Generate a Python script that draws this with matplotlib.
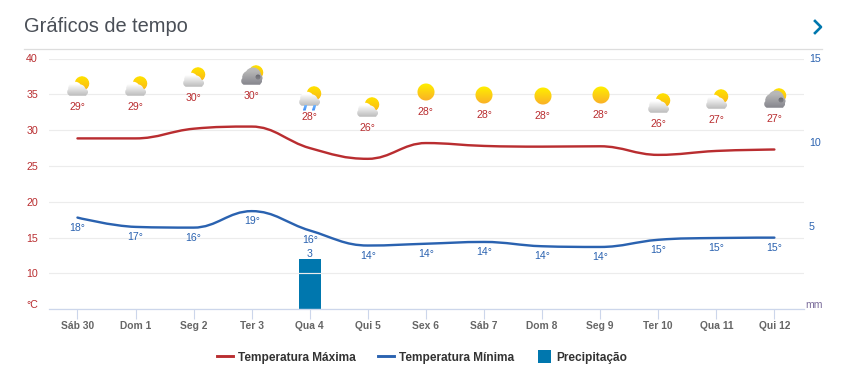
import numpy as np
import matplotlib
matplotlib.use('Agg')
import matplotlib.pyplot as plt
from matplotlib.lines import Line2D
from matplotlib.patches import PathPatch
from matplotlib.path import Path
from matplotlib.offsetbox import AnnotationBbox, OffsetImage

days = ['Sáb 30', 'Dom 1', 'Seg 2', 'Ter 3', 'Qua 4', 'Qui 5', 'Sex 6', 'Sáb 7',
        'Dom 8', 'Seg 9', 'Ter 10', 'Qua 11', 'Qui 12']
temp_max = [28.85, 28.85, 30.2, 30.5, 27.5, 26.0, 28.2, 27.8, 27.7, 27.75, 26.55, 27.1, 27.3]
temp_min = [17.8, 16.5, 16.4, 18.7, 16.0, 13.9, 14.15, 14.4, 13.8, 13.7, 14.7, 14.95, 15.0]
labels_max = [29, 29, 30, 30, 28, 26, 28, 28, 28, 28, 26, 27, 27]
labels_min = [18, 17, 16, 19, 16, 14, 14, 14, 14, 14, 15, 15, 15]
precip = [0, 0, 0, 0, 3, 0, 0, 0, 0, 0, 0, 0, 0]
icons = ['partly', 'partly', 'partly', 'dark', 'rain', 'partly', 'sun', 'sun', 'sun', 'sun',
         'partly', 'partly', 'dark']

RED = '#b92d30'
BLUE = '#2a62b0'
BAR = '#0077ae'

plt.rcParams['font.family'] = ['Liberation Sans', 'DejaVu Sans']
PX = 72 / 100  # points per pixel at dpi 100


def spline_path(xs, ys):
    # same smoothing as the usual web chart spline
    s = 1.5
    conts = []
    for i in range(len(xs)):
        if i == 0 or i == len(xs) - 1:
            conts.append(((xs[i], ys[i]), (xs[i], ys[i])))
            continue
        lx = (s * xs[i] + xs[i - 1]) / (s + 1)
        ly = (s * ys[i] + ys[i - 1]) / (s + 1)
        rx = (s * xs[i] + xs[i + 1]) / (s + 1)
        ry = (s * ys[i] + ys[i + 1]) / (s + 1)
        corr = (ry - ly) * (rx - xs[i]) / (rx - lx) + ys[i] - ry
        ly += corr
        ry += corr
        if (ly > ys[i - 1] and ly > ys[i]) or (ly < ys[i - 1] and ly < ys[i]):
            ly = max(ys[i - 1], ys[i]) if ly > ys[i] else min(ys[i - 1], ys[i])
            ry = 2 * ys[i] - ly
        if (ry > ys[i + 1] and ry > ys[i]) or (ry < ys[i + 1] and ry < ys[i]):
            ry = max(ys[i + 1], ys[i]) if ry > ys[i] else min(ys[i + 1], ys[i])
            ly = 2 * ys[i] - ry
        conts.append(((lx, ly), (rx, ry)))
    verts = [(xs[0], ys[0])]
    codes = [Path.MOVETO]
    for i in range(1, len(xs)):
        verts += [conts[i - 1][1], conts[i][0], (xs[i], ys[i])]
        codes += [Path.CURVE4] * 3
    return Path(verts, codes)


def make_icon(kind):
    # little weather icon painted on a 40x40 px canvas, 4x supersampled
    n = 160
    yy, xx = np.mgrid[0:n, 0:n]
    xx = (xx + 0.5) / 4 - 20
    yy = (yy + 0.5) / 4 - 20
    rgb = np.ones((n, n, 3))
    alpha = np.zeros((n, n))

    def paint(mask, top, bottom, y0, y1):
        t = np.clip((yy - y0) / (y1 - y0), 0, 1)[..., None]
        col = np.array(top) * (1 - t) + np.array(bottom) * t
        rgb[mask] = col[mask]
        alpha[mask] = 1

    def circle(cx, cy, r):
        return (xx - cx) ** 2 + (yy - cy) ** 2 <= r ** 2

    if kind == 'sun':
        paint(circle(0, 0, 8.5), (1, 0.93, 0), (0.98, 0.70, 0.15), -8, 8)
    else:
        paint(circle(4, -3.5, 7.2), (1, 0.88, 0), (0.98, 0.72, 0.1), -10, 3)
        cloud = (circle(-3, 1.5, 6.8) | circle(-7, 5, 3.8) | circle(6.5, 5, 3.5)
                 | circle(2, 3, 5.5) | ((np.abs(xx + 0.2) < 8.5) & (yy > 5) & (yy < 8.8)))
        if kind == 'dark':
            cloud = cloud | circle(1, -0.5, 8) | circle(6, 2, 4.5)
            paint(cloud, (0.72, 0.72, 0.72), (0.52, 0.52, 0.55), -5, 9)
            paint(circle(6, 1, 2.5), (0.42, 0.42, 0.45), (0.5, 0.5, 0.52), -1, 3)
        else:
            paint(cloud, (1, 1, 1), (0.74, 0.74, 0.74), -3, 8.5)
        if kind == 'rain':
            for dx in (-5, 4):
                drop = (np.abs(xx - dx + (yy - 11) * 0.3) < 1.4) & (yy > 8) & (yy < 13.5)
                paint(drop, (0.45, 0.72, 1), (0.25, 0.55, 0.95), 8, 13.5)
    rgba = np.dstack([rgb, alpha])
    # box-filter back down to real pixels
    premult = rgba.copy()
    premult[..., :3] *= alpha[..., None]
    small = premult.reshape(40, 4, 40, 4, 4).mean(axis=(1, 3))
    a = small[..., 3:]
    small[..., :3] = np.where(a > 0, small[..., :3] / np.maximum(a, 1e-6), 1)
    return small


fig = plt.figure(figsize=(8.49, 3.83), dpi=100)
ax = fig.add_axes([49 / 849, (383 - 309.3) / 383, 755 / 849, 250.8 / 383])
ax2 = ax.twinx()
ax.set_zorder(ax2.get_zorder() + 1)
ax.patch.set_visible(False)

x = np.arange(len(days))
ax.set_xlim(-0.49, 12.51)
ax.set_ylim(5, 40)
ax2.set_ylim(0, 15)

# grid and axes
ax.set_yticks([5, 10, 15, 20, 25, 30, 35, 40])
ax.set_yticklabels(['', '10', '15', '20', '25', '30', '35', '40'])
ax.yaxis.grid(True, color='#ececec', lw=0.85)
ax.set_axisbelow(True)
for a in (ax, ax2):
    for s in a.spines.values():
        s.set_visible(False)
ax.spines['bottom'].set_visible(True)
ax.spines['bottom'].set_color('#ccd6eb')
ax.spines['bottom'].set_linewidth(0.9)
ax.tick_params(axis='y', length=0, pad=11 * PX, labelsize=10.6 * PX, labelcolor=RED)
ax.set_xticks(x)
ax.set_xticklabels(days, fontweight='bold')
ax.tick_params(axis='x', length=10 * PX, width=0.8, color='#ccd6eb', pad=1.5 * PX,
               labelsize=10.2 * PX, labelcolor='#666666')
ax2.set_yticks([0, 5, 10, 15])
ax2.set_yticklabels(['', '5', '10', '15'])
ax2.tick_params(axis='y', length=0, pad=5 * PX, labelsize=10.6 * PX, labelcolor=BLUE)
ax.annotate('°C', (0, 0), xycoords='axes fraction', xytext=(-11 * PX, 4 * PX),
            textcoords='offset points', ha='right', va='center', fontsize=10.6 * PX, color=RED)
ax.annotate('mm', (1, 0), xycoords='axes fraction', xytext=(1 * PX, 4 * PX),
            textcoords='offset points', ha='left', va='center', fontsize=10.5 * PX, color='#7d6f9c')

# bar
bars = ax2.bar(x, precip, width=0.38, color=BAR, zorder=2)
ax2.bar_label(bars, labels=[str(p) if p else '' for p in precip], padding=0,
              fontsize=10.5 * PX, color=BLUE)

# lines
ax.add_patch(PathPatch(spline_path(x, temp_max), fc='none', ec=RED, lw=2 * PX * 1.2,
                       capstyle='round', zorder=4))
ax.add_patch(PathPatch(spline_path(x, temp_min), fc='none', ec=BLUE, lw=2 * PX * 1.2,
                       capstyle='round', zorder=4))

# labels and icons, they follow the lines
for i in range(len(days)):
    ax.annotate(f'{labels_max[i]}°', (x[i], temp_max[i]), xytext=(0, 31 * PX),
                textcoords='offset points', ha='center', va='center',
                fontsize=10.5 * PX, color=RED, zorder=5)
    ax.annotate(f'{labels_min[i]}°', (x[i], temp_min[i]), xytext=(0, -10 * PX),
                textcoords='offset points', ha='center', va='center',
                fontsize=10.5 * PX, color=BLUE, zorder=5)
    im = OffsetImage(make_icon(icons[i]), zoom=1, dpi_cor=False, interpolation='nearest')
    ab = AnnotationBbox(im, (x[i], temp_max[i]), xybox=(0.5 * PX, 51 * PX),
                        xycoords='data', boxcoords='offset points', frameon=False,
                        pad=0, zorder=3)
    ax.add_artist(ab)

# header
fig.text(24 / 849, 1 - 27 / 383, 'Gráficos de tempo', fontsize=20 * PX, color='#4a4f57',
         ha='left', va='center')
fig.add_artist(Line2D([24 / 849, 822 / 849], [1 - 48.5 / 383] * 2, color='#dddddd', lw=0.9))
fig.add_artist(Line2D([815 / 849, 821 / 849, 815 / 849],
                      [1 - 21 / 383, 1 - 27 / 383, 1 - 33 / 383],
                      color=BAR, lw=2.2 * PX * 1.2))

# legend
handles = [Line2D([], [], color=RED, lw=2.4 * PX * 1.2),
           Line2D([], [], color=BLUE, lw=2.4 * PX * 1.2),
           Line2D([], [], color=BAR, ls='none', marker='s', markersize=13 * PX, markeredgewidth=0)]
names = ['Temperatura Máxima', 'Temperatura Mínima', 'Precipitação']
fig.legend(handles, names, loc='center', bbox_to_anchor=(422.5 / 849, 1 - 357.5 / 383), ncol=3,
           frameon=False, numpoints=1, handlelength=1.33, handletextpad=0.42,
           columnspacing=1.83, borderpad=0,
           prop={'size': 11.95 * PX, 'weight': 'bold'}, labelcolor='#333333')

fig.savefig('out.png', dpi=100)
